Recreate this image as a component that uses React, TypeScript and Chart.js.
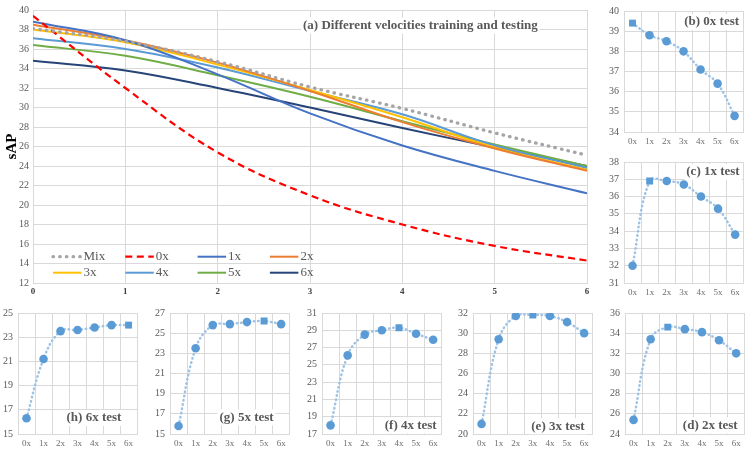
import { useEffect, useRef } from "react";
import { Chart, registerables } from "chart.js";

Chart.register(...registerables);

const FONT = '"Liberation Serif", "Times New Roman", serif';

// (a) sAP against test velocity, one line per training velocity
const testVelocities = [0, 1, 2, 3, 4, 5, 6];
const seriesNames = ["Mix", "0x", "1x", "2x", "3x", "4x", "5x", "6x"];
const mixTrain = [38.1, 36.8, 34.7, 32.1, 29.9, 27.4, 25.1];
const train0x = [39.4, 32.0, 25.4, 21.0, 18.0, 15.8, 14.3];
const train1x = [38.8, 36.9, 33.4, 29.4, 26.1, 23.5, 21.2];
const train2x = [38.5, 36.9, 34.6, 31.7, 28.5, 25.8, 23.5];
const train3x = [38.0, 36.7, 34.4, 31.8, 29.0, 25.9, 23.6];
const train4x = [37.1, 36.0, 34.1, 31.7, 29.3, 26.1, 23.8];
const train5x = [36.4, 35.3, 33.3, 31.1, 28.6, 26.2, 24.0];
const train6x = [34.8, 33.8, 32.0, 30.0, 27.9, 25.9, 24.0];
const seriesColors = ["#A5A5A5", "#FF0000", "#4472C4", "#ED7D31", "#FFC000", "#5B9BD5", "#70AD47", "#264478"];

// (b)-(h): one test velocity each, x = training velocity
const trainLabels = ["0x", "1x", "2x", "3x", "4x", "5x", "6x"];
const test0x = [39.4, 38.8, 38.5, 38.0, 37.1, 36.4, 34.8];
const test1x = [32.0, 36.9, 36.9, 36.7, 36.0, 35.3, 33.8];
const test2x = [25.4, 33.4, 34.6, 34.4, 34.1, 33.3, 32.0];
const test3x = [21.0, 29.4, 31.7, 31.8, 31.7, 31.1, 30.0];
const test4x = [18.0, 26.1, 28.5, 29.0, 29.3, 28.6, 27.9];
const test5x = [15.8, 23.5, 25.8, 25.9, 26.1, 26.2, 25.9];
const test6x = [16.3, 21.2, 23.5, 23.6, 23.8, 24.0, 24.0];

function drawLabel(ctx: CanvasRenderingContext2D, text: string, x: number, y: number, align: "left" | "right") {
  ctx.save();
  ctx.font = `bold 13px ${FONT}`;
  const w = ctx.measureText(text).width;
  const x0 = align === "right" ? x - w : x;
  ctx.fillStyle = "#ffffff";
  ctx.fillRect(x0 - 2, y - 8, w + 4, 16);
  ctx.fillStyle = "#595959";
  ctx.textAlign = "left";
  ctx.textBaseline = "middle";
  ctx.fillText(text, x0, y);
  ctx.restore();
}

const mainOverlay = {
  id: "mainOverlay",
  afterDraw(chart: Chart) {
    const { ctx, chartArea } = chart;
    // legend inside the plot, two rows of four
    chart.data.datasets.forEach((ds: any, i: number) => {
      const x = chartArea.left + 20 + (i % 4) * 72.3;
      const y = chartArea.bottom - 26.3 + Math.floor(i / 4) * 16;
      ctx.save();
      ctx.strokeStyle = ds.borderColor;
      ctx.lineWidth = ds.borderWidth;
      ctx.lineCap = ds.borderCapStyle || "butt";
      ctx.setLineDash(ds.borderDash || []);
      ctx.beginPath();
      ctx.moveTo(x, y);
      ctx.lineTo(x + 28.5, y);
      ctx.stroke();
      ctx.font = `13px ${FONT}`;
      ctx.fillStyle = "#595959";
      ctx.textBaseline = "middle";
      ctx.fillText(ds.label, x + 30.5, y);
      ctx.restore();
    });
    drawLabel(ctx, "(a) Different velocities training and testing", chartArea.left + 270, chartArea.top + 15.5, "left");
  },
};

function MainChart() {
  const chartRef = useRef<HTMLCanvasElement | null>(null);

  useEffect(() => {
    if (!chartRef.current) return;
    const lines = [mixTrain, train0x, train1x, train2x, train3x, train4x, train5x, train6x];

    const datasets = seriesNames.map((name, i) => ({
      label: name,
      data: testVelocities.map((v, j) => ({ x: v, y: lines[i][j] })),
      borderColor: seriesColors[i],
      borderWidth: i === 0 ? 3.3 : i === 1 ? 2.2 : 2,
      borderDash: i === 0 ? [0.5, 6.2] : i === 1 ? [7, 4.5] : [],
      borderCapStyle: i === 0 ? "round" : "butt",
      pointRadius: 0,
      tension: 0.4,
      fill: false,
    }));

    const chart = new Chart(chartRef.current, {
      type: "line",
      data: { datasets: datasets as any },
      options: {
        animation: false,
        responsive: true,
        maintainAspectRatio: false,
        events: [],
        layout: { padding: { top: 9, right: 13, left: 0, bottom: 0 } },
        plugins: { legend: { display: false }, tooltip: { enabled: false } },
        scales: {
          x: {
            type: "linear",
            min: 0,
            max: 6,
            ticks: { stepSize: 1, color: "#404040", padding: 3, font: { family: FONT, size: 9, weight: "bold" } },
            grid: { color: "#d9d9d9", drawTicks: false },
            border: { color: "#d9d9d9" },
            afterFit: (s: any) => {
              s.height = 17;
            },
          },
          y: {
            min: 12,
            max: 40,
            ticks: { stepSize: 2, color: "#595959", padding: 4, font: { family: FONT, size: 10 } },
            grid: { color: "#d9d9d9", drawTicks: false },
            border: { color: "#d9d9d9" },
            title: {
              display: true,
              text: "sAP",
              color: "#000000",
              font: { family: FONT, size: 15, weight: "bold" },
              padding: { top: 3, bottom: 0 },
            },
            afterFit: (s: any) => {
              s.width = 33;
            },
          },
        },
      },
      plugins: [mainOverlay],
    });

    return () => {
      chart.destroy();
    };
  }, []);

  return (
    <div style={{ position: "absolute", left: 0, top: 0, width: 600, height: 300 }}>
      <canvas ref={chartRef}></canvas>
    </div>
  );
}

interface PanelProps {
  title: string;
  values: number[];
  trained: number;
  min: number;
  max: number;
  step: number;
  left: number;
  top: number;
  titleAlign: "left" | "right";
  titleDx: number;
  titleDy: number;
  fromBottom: boolean;
}

const PanelChart: React.FC<PanelProps> = (p) => {
  const chartRef = useRef<HTMLCanvasElement | null>(null);

  useEffect(() => {
    if (!chartRef.current) return;

    const titlePlugin = {
      id: "panelTitle",
      afterDraw(chart: Chart) {
        const a = chart.chartArea;
        const x = p.titleAlign === "right" ? a.right - p.titleDx : a.left + p.titleDx;
        const y = p.fromBottom ? a.bottom - p.titleDy : a.top + p.titleDy;
        drawLabel(chart.ctx, p.title, x, y, p.titleAlign);
      },
    };

    const chart = new Chart(chartRef.current, {
      type: "line",
      data: {
        labels: trainLabels,
        datasets: [
          {
            data: p.values,
            borderColor: "#9DC3E6",
            borderWidth: 2.5,
            borderDash: [0.5, 3.8],
            borderCapStyle: "round",
            tension: 0.4,
            fill: false,
            pointStyle: trainLabels.map((_, i) => (i === p.trained ? "rect" : "circle")),
            pointRadius: trainLabels.map((_, i) => (i === p.trained ? 4.9 : 4.3)),
            pointBackgroundColor: "#5B9BD5",
            pointBorderWidth: 0,
          } as any,
        ],
      },
      options: {
        animation: false,
        responsive: true,
        maintainAspectRatio: false,
        events: [],
        layout: { padding: { top: 8, right: 4, left: 0, bottom: 0 } },
        plugins: { legend: { display: false }, tooltip: { enabled: false } },
        scales: {
          x: {
            offset: true,
            ticks: { color: "#6e6e6e", padding: 4, font: { family: FONT, size: 9 } },
            grid: { offset: true, color: "#d9d9d9", drawTicks: false },
            border: { color: "#d9d9d9" },
            afterFit: (s: any) => {
              s.height = 16;
            },
          },
          y: {
            min: p.min,
            max: p.max,
            ticks: { stepSize: p.step, color: "#595959", padding: 5, font: { family: FONT, size: 10 } },
            grid: { color: "#d9d9d9", drawTicks: false },
            border: { color: "#d9d9d9" },
            afterFit: (s: any) => {
              s.width = 20;
            },
          },
        },
      },
      plugins: [titlePlugin],
    });

    return () => {
      chart.destroy();
    };
  }, [p]);

  return (
    <div style={{ position: "absolute", left: p.left - 20, top: p.top - 8, width: 144, height: 148 }}>
      <canvas ref={chartRef}></canvas>
    </div>
  );
};

const panels: PanelProps[] = [
  { title: "(b) 0x test", values: test0x, trained: 0, min: 34, max: 40, step: 1, left: 624, top: 8, titleAlign: "right", titleDx: 4, titleDy: 11, fromBottom: false },
  { title: "(c) 1x test", values: test1x, trained: 1, min: 31, max: 38, step: 1, left: 624, top: 159, titleAlign: "right", titleDx: 4, titleDy: 10, fromBottom: false },
  { title: "(d) 2x test", values: test2x, trained: 2, min: 24, max: 36, step: 2, left: 625, top: 310, titleAlign: "right", titleDx: 7, titleDy: 8.5, fromBottom: true },
  { title: "(e) 3x test", values: test3x, trained: 3, min: 20, max: 32, step: 2, left: 473, top: 310, titleAlign: "right", titleDx: 8, titleDy: 7.7, fromBottom: true },
  { title: "(f) 4x test", values: test4x, trained: 4, min: 17, max: 31, step: 2, left: 322, top: 310, titleAlign: "right", titleDx: 5, titleDy: 8.6, fromBottom: true },
  { title: "(g) 5x test", values: test5x, trained: 5, min: 15, max: 27, step: 2, left: 170, top: 310, titleAlign: "left", titleDx: 49.5, titleDy: 16.6, fromBottom: true },
  { title: "(h) 6x test", values: test6x, trained: 6, min: 15, max: 25, step: 2, left: 18, top: 310, titleAlign: "left", titleDx: 48.5, titleDy: 16, fromBottom: true },
];

export default function App() {
  return (
    <div style={{ position: "absolute", left: 0, top: 0, width: 748, height: 451, overflow: "hidden", background: "#ffffff" }}>
      <MainChart />
      {panels.map((p) => (
        <PanelChart key={p.title} {...p} />
      ))}
    </div>
  );
}
